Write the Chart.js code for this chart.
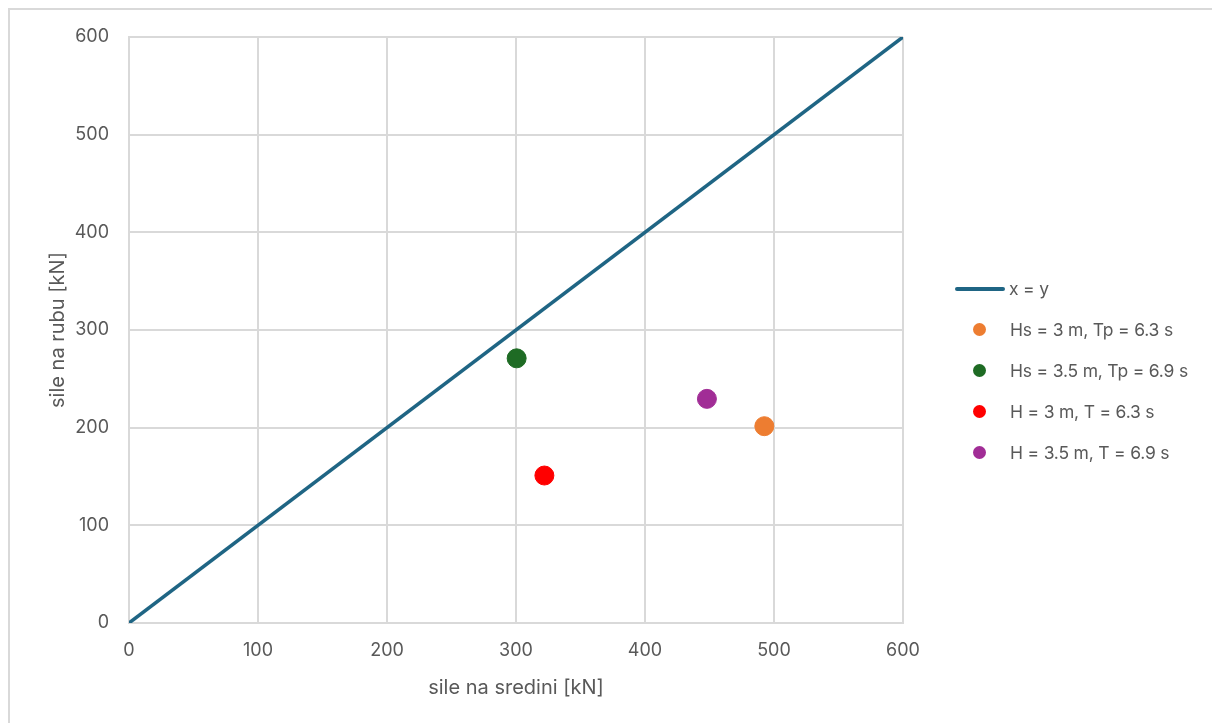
<!DOCTYPE html>
<html>
<head>
<meta charset="utf-8">
<script src="https://cdn.jsdelivr.net/npm/chart.js@4"></script>
<style>
  html, body { margin: 0; padding: 0; background: #fff; }
  body { width: 1212px; height: 723px; position: relative; overflow: hidden; font-family: Inter, "Noto Sans", sans-serif; }
  .frame { position: absolute; left: 8px; top: 8px; right: -2px; bottom: -2px; border: 2px solid #d9d9d9; }
  #wrap { position: absolute; left: 0; top: 0; width: 1212px; height: 723px; }
  #legend { position: absolute; left: 955px; top: 268px; font-size: 17.5px; color: #595959; letter-spacing: -0.2px; }
  #legend .item { height: 41px; display: flex; align-items: center; position: relative; }
  #legend .line { width: 50px; height: 4px; background: #1f6584; border-radius: 2px; margin-right: 4px; }
  #legend .dot { width: 13px; height: 13px; border-radius: 50%; margin: 0 24px 0 18px; }
</style>
</head>
<body>
<div class="frame"></div>
<div id="wrap"><canvas id="chart" width="1212" height="723"></canvas></div>
<div id="legend"></div>
<script>
// diagonal reference line x = y
const lineX = [0, 600];
const lineY = [0, 600];

// measured points
const seriesNames = ['Hs = 3 m, Tp = 6.3 s', 'Hs = 3.5 m, Tp = 6.9 s', 'H = 3 m, T = 6.3 s', 'H = 3.5 m, T = 6.9 s'];
const seriesX = [492.5, 300.5, 322, 448];
const seriesY = [201.5, 271, 151, 229.5];
const seriesColors = ['#ed7d31', '#1e6b24', '#ff0000', '#a12d96'];

const tickColor = '#595959';
const gridColor = '#d9d9d9';

const datasets = [{
  label: 'x = y',
  type: 'line',
  data: lineX.map((x, i) => ({ x, y: lineY[i] })),
  borderColor: '#1f6584',
  borderWidth: 3.5,
  pointRadius: 0,
  fill: false
}];

seriesNames.forEach((name, i) => {
  datasets.push({
    label: name,
    data: [{ x: seriesX[i], y: seriesY[i] }],
    backgroundColor: seriesColors[i],
    borderColor: seriesColors[i],
    pointRadius: 9.5,
    pointHoverRadius: 9.5
  });
});

const ctx = document.getElementById('chart').getContext('2d');
const chart = new Chart(ctx, {
  type: 'scatter',
  data: { datasets },
  options: {
    responsive: false,
    animation: false,
    layout: { padding: { left: 0, top: 37, right: 309, bottom: 0 } },
    plugins: { legend: { display: false }, tooltip: { enabled: false } },
    scales: {
      x: {
        min: 0, max: 600,
        ticks: { stepSize: 100, color: tickColor, font: { family: 'Inter', size: 18 }, padding: 17 },
        grid: { color: gridColor, lineWidth: 2, drawTicks: false },
        border: { color: gridColor, width: 2 },
        title: { display: true, text: 'sile na sredini [kN]', color: tickColor, font: { family: 'Inter', size: 20 }, padding: { top: 4, bottom: 23 } },
        afterFit: s => { s.height = 100; }
      },
      y: {
        min: 0, max: 600,
        ticks: { stepSize: 100, color: tickColor, font: { family: 'Inter', size: 18 }, padding: 20 },
        grid: { color: gridColor, lineWidth: 2, drawTicks: false },
        border: { color: gridColor, width: 2 },
        title: { display: true, text: 'sile na rubu [kN]', color: tickColor, font: { family: 'Inter', size: 20 }, padding: { top: 46, bottom: 4 } },
        afterFit: s => { s.width = 129; }
      }
    }
  }
});

// legend built from the datasets
const legend = document.getElementById('legend');
chart.data.datasets.forEach(ds => {
  const item = document.createElement('div');
  item.className = 'item';
  const mark = document.createElement('span');
  if (ds.type === 'line') {
    mark.className = 'line';
  } else {
    mark.className = 'dot';
    mark.style.background = ds.backgroundColor;
  }
  const text = document.createElement('span');
  text.textContent = ds.label;
  item.appendChild(mark);
  item.appendChild(text);
  legend.appendChild(item);
});
</script>
</body>
</html>
